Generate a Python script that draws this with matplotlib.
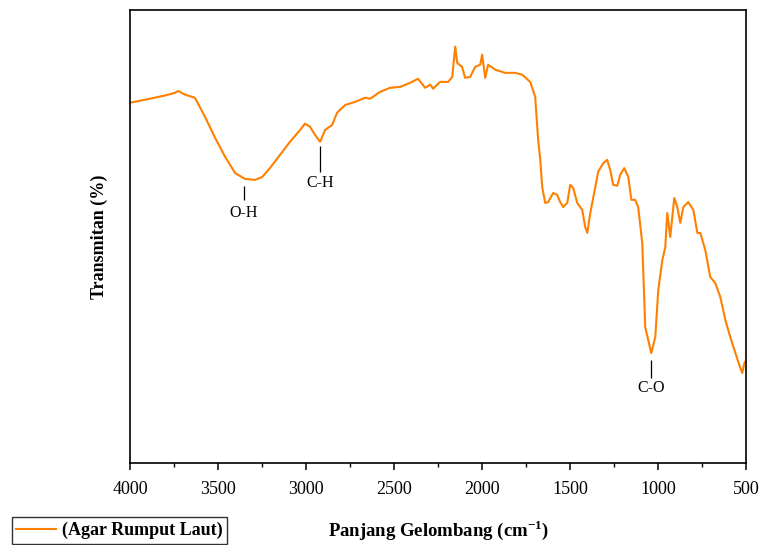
import matplotlib
matplotlib.use("Agg")
from matplotlib import pyplot as plt
from matplotlib.ticker import MultipleLocator

# FTIR spectrum
wavenumber = [4000, 3886, 3801, 3744, 3727, 3688, 3631, 3574, 3517, 3460, 3403,
              3347, 3290, 3250, 3205, 3148, 3091, 3034, 3006, 2977, 2949, 2920,
              2892, 2852, 2824, 2778, 2722, 2665, 2636, 2580, 2523, 2466, 2409,
              2364, 2324, 2295, 2278, 2239, 2193, 2170, 2153, 2142, 2114, 2097,
              2068, 2040, 2011, 2000, 1983, 1966, 1926, 1869, 1813, 1773, 1727,
              1699, 1682, 1670, 1659, 1642, 1625, 1597, 1574, 1557, 1540, 1517,
              1500, 1483, 1460, 1432, 1415, 1403, 1386, 1364, 1341, 1312, 1290,
              1273, 1256, 1233, 1216, 1193, 1170, 1153, 1131, 1114, 1091, 1074,
              1057, 1040, 1017, 1000, 977, 960, 949, 932, 909, 892, 875, 858,
              830, 801, 778, 761, 733, 705, 676, 648, 619, 591, 562, 534, 523,
              511, 500]
transmitan = [79.5, 80.4, 81.1, 81.7, 82.1, 81.3, 80.6, 76.4, 71.8, 67.6, 64.0,
              62.7, 62.5, 63.1, 65.1, 68.0, 70.9, 73.5, 74.9, 74.2, 72.4, 70.9,
              73.5, 74.6, 77.3, 79.0, 79.7, 80.6, 80.4, 81.9, 82.8, 83.0, 83.9,
              84.8, 82.8, 83.5, 82.6, 84.1, 84.1, 85.2, 91.9, 88.3, 87.4, 85.0,
              85.2, 87.4, 87.9, 90.1, 85.0, 87.9, 86.8, 86.1, 86.1, 85.7, 84.1,
              80.8, 71.3, 66.9, 60.9, 57.4, 57.6, 59.6, 59.2, 57.6, 56.5, 57.4,
              61.4, 60.7, 57.4, 55.9, 52.1, 50.8, 55.2, 59.6, 64.3, 66.2, 66.9,
              64.7, 61.4, 61.2, 63.6, 65.1, 63.1, 58.1, 58.1, 56.5, 48.6, 30.0,
              27.2, 24.3, 27.8, 38.2, 44.8, 47.7, 55.2, 49.9, 58.5, 56.5, 53.0,
              56.5, 57.6, 55.9, 50.8, 50.8, 47.0, 41.1, 39.7, 36.7, 31.6, 27.8,
              24.3, 21.0, 19.9, 22.1, 22.7]

# peak labels: (text, wavenumber, line top, line bottom, text y)
peaks = [("O-H", 3352, 61.2, 58.1, 55.2),
         ("C-H", 2920, 70.0, 64.3, 61.8),
         ("C-O", 1040, 22.7, 18.8, 16.6)]

plt.rcParams['font.family'] = ['Liberation Serif', 'DejaVu Serif']
plt.rcParams['mathtext.fontset'] = 'custom'
plt.rcParams['mathtext.rm'] = 'Liberation Serif'
plt.rcParams['mathtext.bf'] = 'Liberation Serif:bold'

fig = plt.figure(figsize=(7.6, 5.45), dpi=100)
ax = fig.add_axes([0.171, 0.150, 0.811, 0.832])

line, = ax.plot(wavenumber, transmitan, color='#FF8000', lw=1.5)

for name, wn, top, bot, ty in peaks:
    ax.vlines(wn, bot, top, color='black', lw=0.9)
    ax.text(wn, ty, name, ha='center', va='center', fontsize=11.5)

ax.set_xlim(4000, 500)
ax.set_ylim(0, 100)
ax.xaxis.set_major_locator(MultipleLocator(500))
ax.xaxis.set_minor_locator(MultipleLocator(250))
ax.tick_params(axis='x', which='major', direction='out', length=5, width=1.1,
               labelsize=13, pad=8)
ax.tick_params(axis='x', which='minor', direction='out', length=3, width=1.0)
ax.set_yticks([])
for s in ax.spines.values():
    s.set_linewidth(1.2)

ax.set_xlabel('Panjang Gelombang (cm$^{\\mathbf{-1}}$)', fontsize=13.5,
              fontweight='bold', labelpad=14)
ax.set_ylabel('Transmitan (%)', fontsize=13, fontweight='bold', labelpad=16)

leg = fig.legend([line], ['(Agar Rumput Laut)'], loc='lower left',
                 bbox_to_anchor=(0.011, -0.004), frameon=True, fancybox=False,
                 edgecolor='black', prop={'weight': 'bold', 'size': 13},
                 handlelength=2.2, borderpad=0.25, handletextpad=0.3,
                 borderaxespad=0.2)
leg.get_frame().set_linewidth(1.0)

fig.savefig('out.png', dpi=100)
